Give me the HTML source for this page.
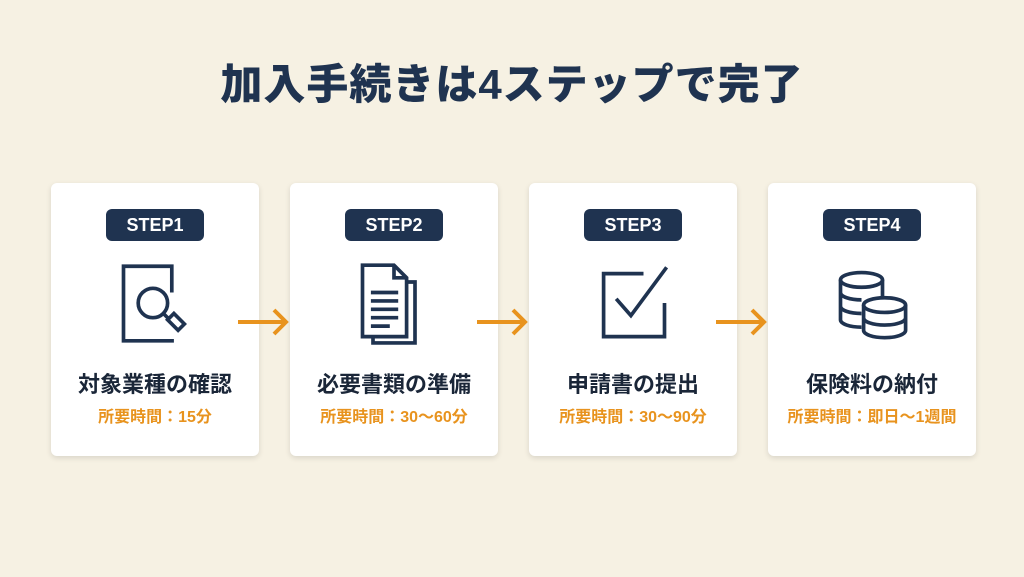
<!DOCTYPE html>
<html><head><meta charset="utf-8"><style>
body{margin:0;width:1024px;height:577px;background:#f6f1e3;font-family:"Liberation Sans","Noto Sans CJK JP",sans-serif;position:relative;overflow:hidden}
h1{position:absolute;top:58px;left:0;width:1024px;text-align:center;margin:0;font-size:42px;font-weight:900;color:#1f3350;letter-spacing:1px;line-height:54px}
.card{position:absolute;top:183px;width:208px;height:273px;background:#fff;border-radius:6px;box-shadow:0 2px 6px rgba(0,0,0,.12)}
.badge{position:absolute;top:26px;left:55px;width:98px;height:32px;background:#1f3350;border-radius:6px;color:#fff;font-weight:bold;font-size:18px;text-align:center;line-height:32px}
.icon{position:absolute;top:78px;left:62px;width:84px;height:84px}
.t{position:absolute;top:184px;width:100%;text-align:center;font-size:22px;font-weight:bold;color:#1a2638}
.s{position:absolute;top:220px;width:100%;text-align:center;font-size:16px;font-weight:bold;color:#e8931e}
.arr{position:absolute;top:307px;width:56px;height:30px}
</style></head><body>
<h1>加入手続きは4ステップで完了</h1>

<div class="card" style="left:51px"><div class="badge">STEP1</div>
<svg class="icon" viewBox="0 0 80 80" fill="none" stroke="#1f3350" stroke-width="3.5"><path d="M56 30V5H10v71h48"/><circle cx="38" cy="40" r="14"/><path d="M48 50l6 6"/><path d="M52 56l6-6 10 10-6 6z"/></svg>
<div class="t">対象業種の確認</div><div class="s">所要時間：15分</div></div>

<div class="card" style="left:290px"><div class="badge">STEP2</div>
<svg class="icon" viewBox="0 0 80 80" fill="none" stroke="#1f3350" stroke-width="3.5"><path d="M10 4h30l12 12v56H10z"/><path d="M40 4v12h12"/><path d="M52 20h8v58H20v-6"/><path d="M18 30h26M18 38h26M18 46h26M18 54h26M18 62h18"/></svg>
<div class="t">必要書類の準備</div><div class="s">所要時間：30〜60分</div></div>

<div class="card" style="left:529px"><div class="badge">STEP3</div>
<svg class="icon" viewBox="0 0 80 80" fill="none" stroke="#1f3350" stroke-width="3.5"><path d="M50 12H12v60h58V40"/><path d="M24 36l14 16 34-46"/></svg>
<div class="t">申請書の提出</div><div class="s">所要時間：30〜90分</div></div>

<div class="card" style="left:768px"><div class="badge">STEP4</div>
<svg class="icon" viewBox="0 0 80 80" fill="none" stroke="#1f3350" stroke-width="3.5"><ellipse cx="30" cy="18" rx="20" ry="7"/><path d="M10 18v38c0 4 9 7 20 7M10 30c0 4 9 7 20 7M10 43c0 4 9 7 20 7M50 18v16"/><ellipse cx="52" cy="42" rx="20" ry="7"/><path d="M32 42v24c0 4 9 7 20 7s20-3 20-7V42M32 54c0 4 9 7 20 7s20-3 20-7"/></svg>
<div class="t">保険料の納付</div><div class="s">所要時間：即日〜1週間</div></div>

<svg class="arr" style="left:236px" viewBox="0 0 56 30" fill="none" stroke="#e8931e" stroke-width="4"><path d="M2 15h48M38 3l12 12-12 12"/></svg>
<svg class="arr" style="left:475px" viewBox="0 0 56 30" fill="none" stroke="#e8931e" stroke-width="4"><path d="M2 15h48M38 3l12 12-12 12"/></svg>
<svg class="arr" style="left:714px" viewBox="0 0 56 30" fill="none" stroke="#e8931e" stroke-width="4"><path d="M2 15h48M38 3l12 12-12 12"/></svg>
</body></html>
